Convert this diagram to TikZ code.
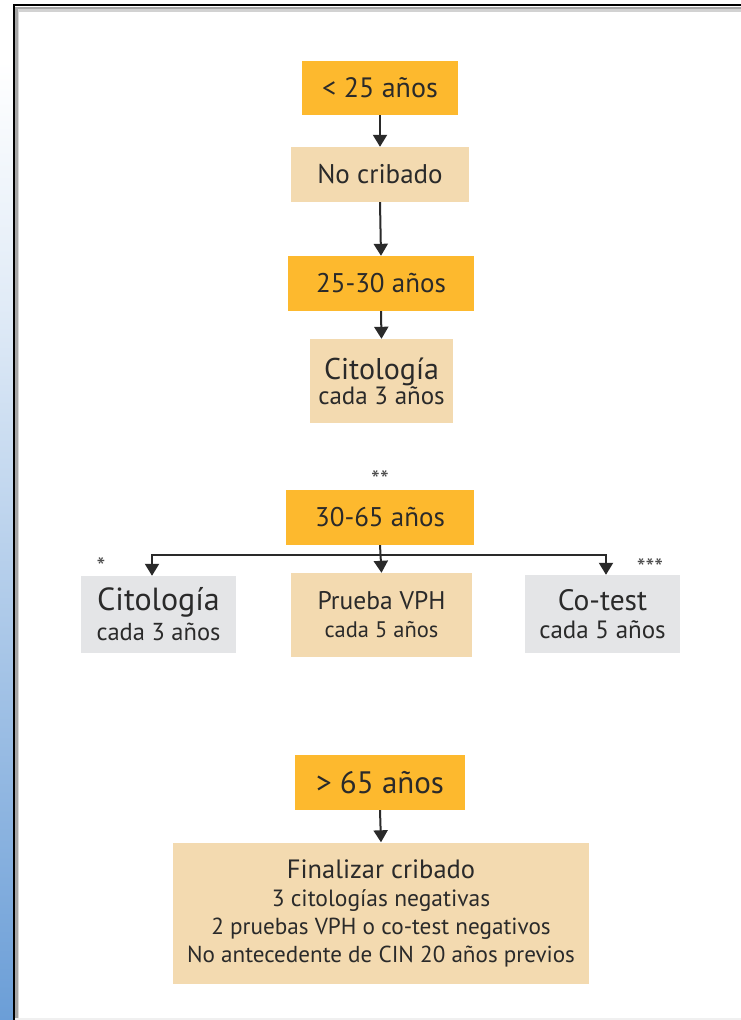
\documentclass[tikz,border=0pt]{standalone}
\usepackage{fontspec}
\setmainfont{PT Sans}
\usetikzlibrary{arrows.meta}
\definecolor{agebox}{HTML}{FDB92E}
\definecolor{stepbeige}{HTML}{F3DAB0}
\definecolor{stepgray}{HTML}{E4E5E7}
\definecolor{ink}{HTML}{2A2A2A}
\definecolor{stripblue}{HTML}{6B9ED7}
\newcommand{\fs}[2]{\fontsize{#1}{#2}\selectfont}
\tikzset{
  box/.style={inner sep=0pt, align=center, text=ink, font=\fs{27}{30}},
  agestyle/.style={box, fill=agebox},
  beigestyle/.style={box, fill=stepbeige},
  graystyle/.style={box, fill=stepgray},
  arr/.style={draw=ink, line width=2pt, -{Triangle[width=14pt,length=12pt]}},
  link/.style={draw=ink, line width=2pt},
  stars/.style={text=ink!85, font=\fs{25}{25}, inner sep=0pt}
}
\begin{document}
\begin{tikzpicture}[x=1pt,y=-1pt]
  \useasboundingbox (0,0) rectangle (741,1020);
  % page frame: blue strip, black rule and soft shadow
  \fill[white] (0,0) rectangle (13,60);
  \shade[top color=white, bottom color=white!80!stripblue] (0,60) rectangle (13,300);
  \shade[top color=white!80!stripblue, bottom color=stripblue] (0,300) rectangle (13,1020);
  \fill[gray!70] (15,6.5) rectangle (741,9);
  \fill[gray!35] (15,9) rectangle (741,11.5);
  \fill[gray!70] (15,6.5) rectangle (17.5,1020);
  \fill[gray!30] (17.5,9) rectangle (19,1020);
  \draw[black, line width=2.2pt] (14,1020) -- (14,5) -- (741,5);
  \fill[gray!12] (15,1018) rectangle (741,1020);

  % age groups and their screening steps
  \node[agestyle, minimum width=156pt, minimum height=54pt, font=\fs{28}{30}] (a25) at (380,88) {< 25 años};
  \node[beigestyle, minimum width=178pt, minimum height=55pt] (nocrib) at (380,174.5) {No cribado};
  \node[agestyle, minimum width=186pt, minimum height=55pt] (a2530) at (381,283.5) {25-30 años};
  \node[beigestyle, minimum width=143pt, minimum height=84pt, font=\fs{30}{25}] (cito1) at (381.5,381)
    {Citología\\\fs{25}{25}cada 3 años};
  \node[stars] (s2) at (380,480) {**};
  \node[agestyle, minimum width=188pt, minimum height=55pt] (a3065) at (380,517.5) {30-65 años};
  \node[graystyle, minimum width=155pt, minimum height=77pt, font=\fs{32}{30}] (citoL) at (158.5,614.5)
    {Citología\\\fs{24.5}{30}cada 3 años};
  \node[beigestyle, minimum width=181pt, minimum height=84pt, font=\fs{25.5}{28}] (vph) at (381.5,615)
    {Prueba VPH\\\fs{22.5}{28}cada 5 años};
  \node[graystyle, minimum width=155pt, minimum height=78pt, font=\fs{29.5}{28}] (cotest) at (602.5,614)
    {Co-test\\\fs{25}{28}cada 5 años};
  \node[stars] (s1) at (101,567) {*};
  \node[stars] (s3) at (650,568) {***};
  \node[agestyle, minimum width=170pt, minimum height=55pt, font=\fs{31}{30}] (a65) at (380,782.5) {> 65 años};
  \node[beigestyle, minimum width=416pt, minimum height=141pt, font=\fs{26.5}{28}] (fin) at (381,913)
    {Finalizar cribado\\
     \fs{23.5}{28}3 citologías negativas\\
     \fs{23.2}{29}2 pruebas VPH o co-test negativos\\
     \fs{23.1}{28}No antecedente de CIN 20 años previos};

  % connectors
  \draw[arr] (a25.south) -- (nocrib.north);
  \draw[arr] (nocrib.south) -- (a2530.north);
  \draw[arr] (a2530.south) -- (cito1.north);
  \draw[arr] (a3065.south) -- (vph.north);
  \coordinate (jl) at (152,555);
  \coordinate (jr) at (606,555);
  \draw[link] (jl) -- (jr);
  \draw[arr] ([yshift=1pt]jl) -- (jl |- citoL.north);
  \draw[arr] ([yshift=1pt]jr) -- (jr |- cotest.north);
  \draw[arr] (a65.south) -- (fin.north);
\end{tikzpicture}
\end{document}
